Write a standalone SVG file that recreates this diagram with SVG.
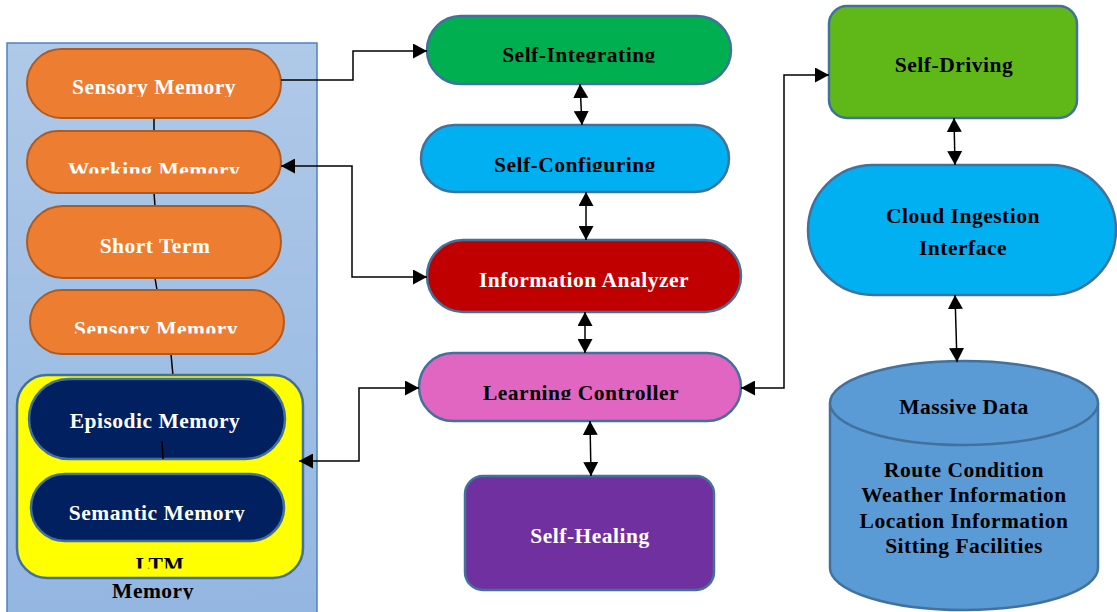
<svg xmlns="http://www.w3.org/2000/svg" width="1117" height="612" viewBox="0 0 1117 612">
  <defs>
    <linearGradient id="panelGrad" x1="0" y1="0" x2="0" y2="1">
      <stop offset="0" stop-color="#afc9e8"/>
      <stop offset="1" stop-color="#93b6e1"/>
    </linearGradient>
    <marker id="arrow" viewBox="0 0 14 15" markerWidth="14" markerHeight="15" refX="14" refY="7.5" markerUnits="userSpaceOnUse" orient="auto-start-reverse">
      <path d="M0,0 L14,7.5 L0,15 z" fill="#000"/>
    </marker>
    <clipPath id="cSens1" clipPathUnits="userSpaceOnUse"><rect x="0" y="0" width="1117" height="97"/></clipPath>
    <clipPath id="cWork" clipPathUnits="userSpaceOnUse"><rect x="0" y="0" width="1117" height="173.5"/></clipPath>
    <clipPath id="cSens2" clipPathUnits="userSpaceOnUse"><rect x="0" y="0" width="1117" height="333.5"/></clipPath>
    <clipPath id="cSem" clipPathUnits="userSpaceOnUse"><rect x="0" y="0" width="1117" height="521.5"/></clipPath>
    <clipPath id="cLtm" clipPathUnits="userSpaceOnUse"><rect x="0" y="0" width="1117" height="568.5"/></clipPath>
    <clipPath id="cMem" clipPathUnits="userSpaceOnUse"><rect x="0" y="0" width="1117" height="599.5"/></clipPath>
    <clipPath id="cInt" clipPathUnits="userSpaceOnUse"><rect x="0" y="0" width="1117" height="62.5"/></clipPath>
    <clipPath id="cConf" clipPathUnits="userSpaceOnUse"><rect x="0" y="0" width="1117" height="172"/></clipPath>
    <clipPath id="cLearn" clipPathUnits="userSpaceOnUse"><rect x="0" y="0" width="1117" height="400"/></clipPath>
  </defs>
  <style>
    text { font-family: "Liberation Serif", "Times New Roman", serif; font-weight: bold; font-size: 21.5px; letter-spacing: 0.5px; text-anchor: middle; }
    .w { fill: #ffffff; }
    .k { fill: #000000; }
    .orange { fill: #ed7d31; stroke: #ae5a21; stroke-width: 2; }
    .navy { fill: #002060; stroke: #41719c; stroke-width: 2.5; }
    .node { stroke: #41719c; stroke-width: 2.5; }
    .link { fill: none; stroke: #000; stroke-width: 1.5; }
    .bi { marker-start: url(#arrow); marker-end: url(#arrow); }
    .one { marker-end: url(#arrow); }
  </style>

  <!-- Memory panel -->
  <g id="memory-panel">
    <rect x="7" y="43" width="310" height="580" fill="url(#panelGrad)" stroke="#4f81bd" stroke-width="1.5"/>
    <text class="k" x="153" y="598" clip-path="url(#cMem)">Memory</text>
  </g>

  <!-- vertical links inside the memory stack -->
  <g id="memory-links" class="link">
    <line x1="154" y1="118" x2="154" y2="131"/>
    <line x1="154" y1="193" x2="155" y2="206"/>
    <line x1="155" y1="278" x2="157" y2="290"/>
    <line x1="171" y1="354" x2="173" y2="376"/>
  </g>

  <g id="sensory-memory-1">
    <rect class="orange" x="27" y="49" width="254" height="69" rx="34.5"/>
    <text class="w" x="154" y="94" clip-path="url(#cSens1)">Sensory Memory</text>
  </g>
  <g id="working-memory">
    <rect class="orange" x="27" y="131" width="254" height="62" rx="31"/>
    <text class="w" x="154" y="177" clip-path="url(#cWork)">Working Memory</text>
  </g>
  <g id="short-term">
    <rect class="orange" x="27" y="206" width="254" height="72" rx="36"/>
    <text class="w" x="155" y="253">Short Term</text>
  </g>
  <g id="sensory-memory-2">
    <rect class="orange" x="30" y="290" width="254" height="64" rx="32"/>
    <text class="w" x="156" y="336" clip-path="url(#cSens2)">Sensory Memory</text>
  </g>

  <g id="ltm">
    <rect x="17" y="375" width="286" height="203" rx="30" fill="#ffff00" stroke="#41719c" stroke-width="2.5"/>
    <text class="k" x="160" y="572" clip-path="url(#cLtm)">LTM</text>
  </g>
  <g id="episodic-memory">
    <rect class="navy" x="29" y="379" width="256" height="80" rx="40"/>
    <text class="w" x="155" y="428">Episodic Memory</text>
    <line x1="162" y1="441" x2="163" y2="459" stroke="#000" stroke-width="1.5"/>
  </g>
  <g id="semantic-memory">
    <rect class="navy" x="31" y="474" width="253" height="67" rx="33.5"/>
    <text class="w" x="157" y="520" clip-path="url(#cSem)">Semantic Memory</text>
  </g>

  <!-- Centre column -->
  <g id="self-integrating">
    <rect class="node" x="427" y="16" width="304" height="68" rx="34" fill="#00b050"/>
    <text class="k" x="579" y="62" clip-path="url(#cInt)">Self-Integrating</text>
  </g>
  <g id="self-configuring">
    <rect class="node" x="421" y="125" width="308" height="67" rx="33.5" fill="#00b0f0"/>
    <text class="k" x="575" y="172" clip-path="url(#cConf)">Self-Configuring</text>
  </g>
  <g id="information-analyzer">
    <rect class="node" x="427" y="240" width="314" height="72" rx="36" fill="#c00000"/>
    <text class="w" x="584" y="287">Information Analyzer</text>
  </g>
  <g id="learning-controller">
    <rect class="node" x="419" y="353" width="322" height="68" rx="34" fill="#e066c1"/>
    <text class="k" x="581" y="400" clip-path="url(#cLearn)">Learning Controller</text>
  </g>
  <g id="self-healing">
    <rect class="node" x="465" y="476" width="249" height="114" rx="18" fill="#7030a0"/>
    <text class="w" x="590" y="543">Self-Healing</text>
  </g>

  <!-- Right column -->
  <g id="self-driving">
    <rect class="node" x="829" y="6" width="248" height="112" rx="18" fill="#60b818"/>
    <text class="k" x="954" y="72">Self-Driving</text>
  </g>
  <g id="cloud-ingestion-interface">
    <rect class="node" x="808" y="165" width="308" height="130" rx="65" fill="#00b0f0"/>
    <text class="k" x="963" y="223">Cloud Ingestion</text>
    <text class="k" x="963" y="255">Interface</text>
  </g>
  <g id="massive-data">
    <path class="node" d="M830,403 L830,568 A134,42 0 0 0 1098,568 L1098,403" fill="#5b9bd5"/>
    <ellipse class="node" cx="964" cy="403" rx="134" ry="42" fill="#5b9bd5"/>
    <text class="k" x="964" y="414">Massive Data</text>
    <text class="k" x="964" y="477">Route Condition</text>
    <text class="k" x="964" y="502">Weather Information</text>
    <text class="k" x="964" y="528">Location Information</text>
    <text class="k" x="964" y="553">Sitting Facilities</text>
  </g>

  <!-- Connectors -->
  <g id="connectors" class="link">
    <path class="one" d="M281,80 H353 V51 H427"/>
    <path class="bi" d="M281,166 H352 V277 H427"/>
    <line class="bi" x1="580" y1="84" x2="582" y2="125"/>
    <line class="bi" x1="586" y1="192" x2="586" y2="240"/>
    <line class="bi" x1="585" y1="312" x2="585" y2="353"/>
    <line class="bi" x1="590" y1="421" x2="591" y2="476"/>
    <path class="bi" d="M299,461 H359 V388 H419"/>
    <path class="bi" d="M741,388 H784 V75 H829"/>
    <line class="bi" x1="954" y1="118" x2="955" y2="165"/>
    <line class="bi" x1="955" y1="295" x2="957" y2="362"/>
  </g>
</svg>
